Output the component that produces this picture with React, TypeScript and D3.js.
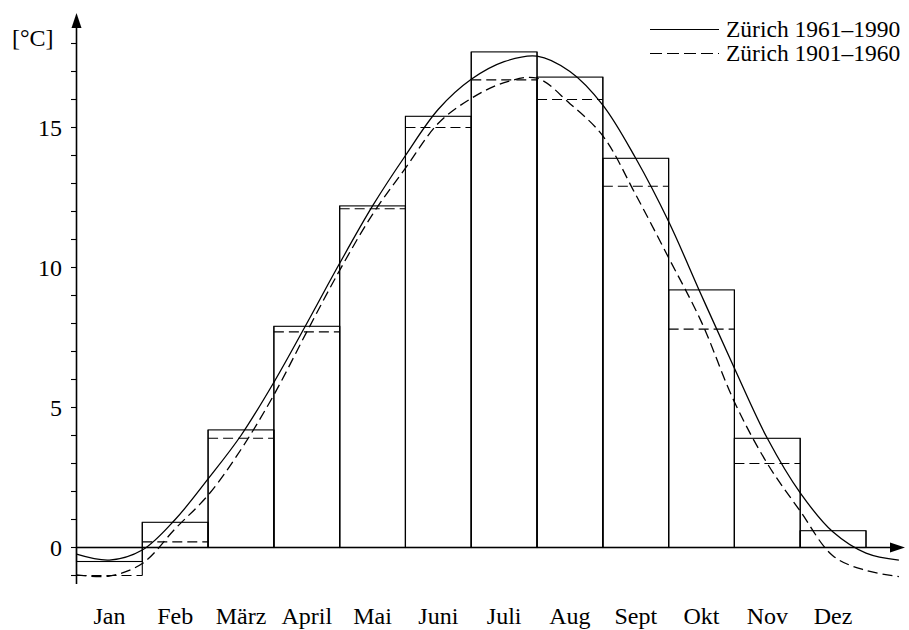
import * as d3 from 'd3';
import { useEffect, useRef } from 'react';

// monthly means, Zürich
const months = ["Jan", "Feb", "März", "April", "Mai", "Juni", "Juli", "Aug", "Sept", "Okt", "Nov", "Dez"];
const temp1961_1990 = [-0.5, 0.9, 4.2, 7.9, 12.2, 15.4, 17.7, 16.8, 13.9, 9.2, 3.9, 0.6];
const temp1901_1960 = [-1.0, 0.2, 3.9, 7.7, 12.1, 15.0, 16.7, 16.0, 12.9, 7.8, 3.0, 0.0];

// fitted curves at half-month steps (0 = start of Jan)
const curveSteps = [0, 0.5, 1, 1.5, 2, 2.5, 3, 3.5, 4, 4.5, 5, 5.5, 6, 6.5, 7, 7.5, 8, 8.5, 9, 9.5, 10, 10.5, 11, 11.5, 12, 12.5];
const fit1961_1990 = [-0.24, -0.45, -0.09, 1.0, 2.45, 4.0, 5.9, 8.0, 10.15, 12.2, 14.0, 15.65, 16.72, 17.35, 17.55, 17.0, 15.8, 13.9, 11.64, 9.0, 6.4, 3.9, 1.95, 0.55, -0.2, -0.45];
const fit1901_1960 = [-0.98, -1.02, -0.57, 0.67, 1.87, 3.5, 5.45, 7.7, 9.9, 11.9, 13.55, 15.15, 16.04, 16.6, 16.76, 15.85, 14.7, 12.6, 10.35, 8.05, 5.2, 3.0, 1.3, -0.3, -0.82, -1.04];

const yTickLabels = [0, 5, 10, 15];
const yMinorTicks = [-1, 0, 1, 2, 3, 4, 5, 6, 7, 8, 9, 10, 11, 12, 13, 14, 15, 16, 17, 18];
const legendLabels = ["Zürich 1961–1990", "Zürich 1901–1960"];

const App = () => {
    const ref = useRef<SVGSVGElement>(null);
    useEffect(() => {
        document.body.style.margin = "0";
        DrawChart();
    }, []);

    const DrawChart = () => {
        const width = 909, height = 630;
        const font = "'Liberation Serif', 'Times New Roman', serif";
        const fontSize = "24px";
        const svg = d3.select(ref.current);
        svg.selectAll("*").remove();
        svg.attr("width", width).attr("height", height).style("background-color", "#fff");

        const x0 = 76.5, x1 = 866;
        const x: any = d3.scaleBand().domain(months).range([x0, x1]).padding(0);
        const xm = d3.scaleLinear().domain([0, 12]).range([x0, x1]);
        const y = d3.scaleLinear().domain([-1, 18]).range([575.5, 43.5]);

        const g = svg.append("g");

        // bars 1961-1990 (solid boxes), sides reach down to the lower value if negative
        months.forEach((m, i) => {
            const v1 = temp1961_1990[i], v2 = temp1901_1960[i];
            const top = Math.max(0, v1, v2);
            const bottom = Math.min(0, v1, v2);
            const xl = x(m), xr = x(m) + x.bandwidth();
            g.append("rect")
                .attr("x", xl)
                .attr("y", y(Math.max(0, v1)))
                .attr("width", x.bandwidth())
                .attr("height", Math.abs(y(v1) - y(0)))
                .attr("fill", "none")
                .attr("stroke", "#000")
                .attr("stroke-width", 1.1);
            [xl, xr].forEach(xx => {
                g.append("line")
                    .attr("x1", xx).attr("x2", xx)
                    .attr("y1", y(top)).attr("y2", y(bottom))
                    .attr("stroke", "#000").attr("stroke-width", 1.1);
            });
            // dashed level 1901-1960
            g.append("line")
                .attr("x1", xl).attr("x2", xr)
                .attr("y1", y(v2)).attr("y2", y(v2))
                .attr("stroke", "#000")
                .attr("stroke-width", 1.1)
                .attr("stroke-dasharray", "10,5");
        });

        // fitted curves
        const line = d3.line<number>()
            .x((_d, i) => xm(curveSteps[i]))
            .y(d => y(d))
            .curve(d3.curveCatmullRom.alpha(0.5));
        g.append("path")
            .attr("d", line(fit1961_1990))
            .attr("fill", "none")
            .attr("stroke", "#000")
            .attr("stroke-width", 1.3);
        g.append("path")
            .attr("d", line(fit1901_1960))
            .attr("fill", "none")
            .attr("stroke", "#000")
            .attr("stroke-width", 1.3)
            .attr("stroke-dasharray", "10,5");

        // axes
        const axisX = 76.5;
        g.append("line")
            .attr("x1", axisX).attr("x2", axisX)
            .attr("y1", y(-1.3)).attr("y2", 26)
            .attr("stroke", "#000").attr("stroke-width", 1.6);
        g.append("path")
            .attr("d", `M${axisX},13 L${axisX - 5},28 L${axisX + 5},28 Z`)
            .attr("fill", "#000");
        g.append("line")
            .attr("x1", axisX).attr("x2", 892)
            .attr("y1", y(0)).attr("y2", y(0))
            .attr("stroke", "#000").attr("stroke-width", 1.6);
        g.append("path")
            .attr("d", `M905,${y(0)} L890,${y(0) - 5} L890,${y(0) + 5} Z`)
            .attr("fill", "#000");

        g.selectAll(".ytick")
            .data(yMinorTicks)
            .enter().append("line")
            .attr("class", "ytick")
            .attr("x1", axisX - 5.5).attr("x2", axisX)
            .attr("y1", d => y(d)).attr("y2", d => y(d))
            .attr("stroke", "#000").attr("stroke-width", 1.1);

        g.selectAll(".ylabel")
            .data(yTickLabels)
            .enter().append("text")
            .attr("class", "ylabel")
            .attr("x", 62)
            .attr("y", d => y(d) + 8.5)
            .attr("text-anchor", "end")
            .style("font-family", font)
            .style("font-size", fontSize)
            .text(d => d);

        g.append("text")
            .attr("x", 12)
            .attr("y", 45.5)
            .style("font-family", font)
            .style("font-size", fontSize)
            .text("[°C]");

        g.selectAll(".xlabel")
            .data(months)
            .enter().append("text")
            .attr("class", "xlabel")
            .attr("x", d => x(d) + x.bandwidth() / 2)
            .attr("y", 623.5)
            .attr("text-anchor", "middle")
            .style("font-family", font)
            .style("font-size", fontSize)
            .text(d => d);

        // legend
        legendLabels.forEach((label, i) => {
            const ly = 29.5 + i * 24;
            g.append("line")
                .attr("x1", 650).attr("x2", 719)
                .attr("y1", ly).attr("y2", ly)
                .attr("stroke", "#000")
                .attr("stroke-width", 1.2)
                .attr("stroke-dasharray", i === 1 ? "12,5" : null);
            g.append("text")
                .attr("x", 726)
                .attr("y", ly + 7.5)
                .style("font-family", font)
                .style("font-size", "23.5px")
                .text(label);
        });
    };

    return (
        <>
            <svg ref={ref} style={{ display: "block" }}></svg>
        </>
    );
};

export default App;
